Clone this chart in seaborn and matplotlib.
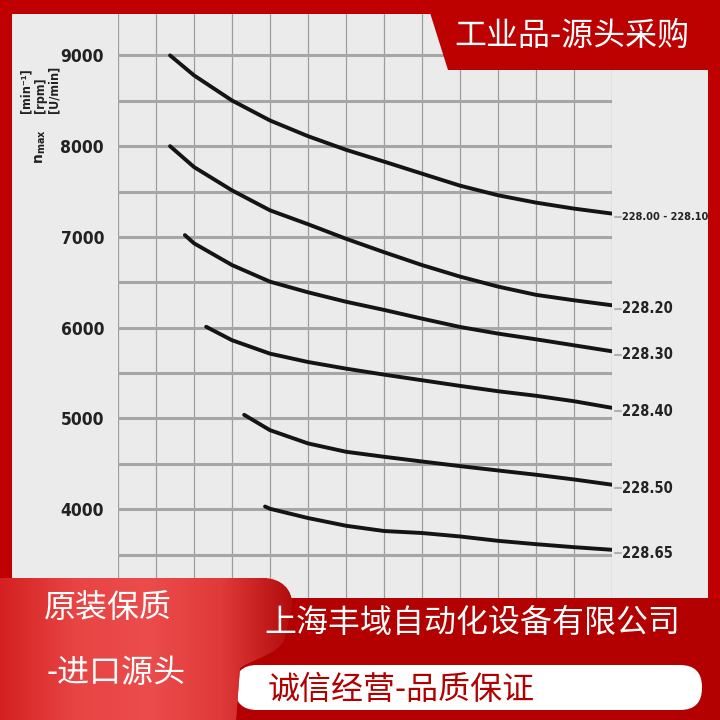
import numpy as np
import pandas as pd
import matplotlib
matplotlib.use("Agg")
import matplotlib.pyplot as plt
import seaborn as sns
from matplotlib import font_manager as fm
from matplotlib.path import Path
from matplotlib.patches import PathPatch, Polygon, Rectangle, FancyBboxPatch
from matplotlib.colors import LinearSegmentedColormap

# ---------------- data ----------------
series_labels = ["228.00 - 228.10", "228.20", "228.30", "228.40", "228.50", "228.65"]

s1_x = [1.37, 2, 3, 4, 5, 6, 7, 8, 9, 10, 11, 12, 13]
s1_n = [9000, 8780, 8503, 8283, 8110, 7960, 7830, 7697, 7565, 7459, 7378, 7312, 7257]
s2_x = [1.37, 2, 3, 4, 5, 6, 7, 8, 9, 10, 11, 12, 13]
s2_n = [8000, 7770, 7513, 7293, 7140, 6980, 6832, 6690, 6563, 6453, 6362, 6302, 6247]
s3_x = [1.76, 2, 3, 4, 5, 6, 7, 8, 9, 10, 11, 12, 13]
s3_n = [7020, 6930, 6690, 6507, 6390, 6286, 6196, 6100, 6008, 5935, 5872, 5806, 5740]
s4_x = [2.32, 3, 4, 5, 6, 7, 8, 9, 10, 11, 12, 13]
s4_n = [6010, 5862, 5714, 5622, 5549, 5483, 5421, 5359, 5300, 5250, 5190, 5117]
s5_x = [3.32, 4, 5, 6, 7, 8, 9, 10, 11, 12, 13]
s5_n = [5040, 4871, 4725, 4633, 4578, 4526, 4475, 4427, 4380, 4328, 4270]
s6_x = [3.87, 4, 5, 6, 7, 8, 9, 10, 11, 12, 13]
s6_n = [4030, 4005, 3903, 3818, 3760, 3738, 3700, 3652, 3615, 3582, 3553]

y_ticks = [4000, 5000, 6000, 7000, 8000, 9000]
y_tick_labels = ["4000", "5000", "6000", "7000", "8000", "9000"]
y_minor = [3500, 4500, 5500, 6500, 7500, 8500]
x_grid = list(range(14))

unit_labels = ["[min\u207b\u00b9]", "[rpm]", "[U/min]"]
top_banner = "工业品-源头采购"
left_line1 = "原装保质"
left_line2 = "-进口源头"
company = "上海丰域自动化设备有限公司"
slogan = "诚信经营-品质保证"

# ---------------- style ----------------
RED = "#c00000"
DARKRED = "#b30000"
PANEL = "#ebebeb"

sns.set_theme(style="white")
plt.rcParams["font.family"] = ["Noto Sans CJK SC", "DejaVu Sans"]


def _narrow_file():
    for f in fm.fontManager.ttflist:
        nm = f.name
        narrow = ("Narrow" in nm) or ("Condensed" in nm) or (str(f.stretch) in ("condensed", "semi-condensed"))
        if narrow and str(f.weight) in ("bold", "700") and f.style == "normal":
            return f.fname
    return None


NARROW_FILE = _narrow_file()


def num_font(size):
    if NARROW_FILE:
        return fm.FontProperties(fname=NARROW_FILE, size=size)
    return fm.FontProperties(family=["Liberation Sans", "DejaVu Sans"], weight="bold", size=size * 0.9)


xs = [s1_x, s2_x, s3_x, s4_x, s5_x, s6_x]
ns = [s1_n, s2_n, s3_n, s4_n, s5_n, s6_n]
df = pd.concat(
    [pd.DataFrame({"x": x, "n": n, "series": lab}) for x, n, lab in zip(xs, ns, series_labels)],
    ignore_index=True,
)

fig = plt.figure(figsize=(7.2, 7.2), dpi=100)
fig.patch.set_facecolor(RED)

bg = fig.add_axes([0, 0, 1, 1], zorder=0)
bg.set_xlim(0, 720); bg.set_ylim(720, 0); bg.axis("off")
bg.add_patch(Rectangle((12, 14), 696, 600, color=PANEL, lw=0))

ax = fig.add_axes([118 / 720, 1 - 598 / 720, 494 / 720, 584 / 720], zorder=1)
ax.set_facecolor(PANEL)
for s in ax.spines.values():
    s.set_visible(False)
ax.set_xlim(0, 13)
ax.set_ylim(3022, 9456)
ax.set_xticks(x_grid)
ax.set_yticks(y_ticks)
ax.set_yticks(y_minor, minor=True)
ax.set_yticklabels(y_tick_labels, fontproperties=num_font(12.5), color="#222222")
ax.tick_params(axis="x", labelbottom=False, length=0)
ax.tick_params(axis="y", which="both", length=0, pad=10)
ax.xaxis.grid(True, color="#9c9c9c", lw=0.9)
ax.yaxis.grid(True, which="both", color="#a6a6a6", lw=2.2)
ax.set_axisbelow(True)

sns.lineplot(data=df, x="x", y="n", hue="series", palette=["#141414"] * 6,
             legend=False, lw=2.8, estimator=None, ax=ax)
ax.set_xlabel(""); ax.set_ylabel("")

for i, (lab, x, n) in enumerate(zip(series_labels, xs, ns)):
    ax.plot([x[-1] + 0.08, x[-1] + 0.24], [n[-1] - 40, n[-1] - 40], color="#b0b0b0", lw=1.5, clip_on=False)
    ax.text(x[-1] + 0.27, n[-1] - 40, lab, ha="left", va="center",
            fontproperties=num_font(7.8 if i == 0 else 10.5), color="#222222", clip_on=False)

# ---------------- overlay decorations ----------------
ov = fig.add_axes([0, 0, 1, 1], zorder=3)
ov.set_xlim(0, 720); ov.set_ylim(720, 0); ov.axis("off")
ov.patch.set_alpha(0)

# axis label columns
for xc, t in zip([26, 40, 54], unit_labels):
    ov.text(xc, 113, t, rotation=90, ha="center", va="bottom",
            fontproperties=num_font(9), color="#222222")
ov.text(41, 164, r"$\mathbf{n_{max}}$", rotation=90, ha="center", va="bottom", fontsize=10, color="#222222")

# borders
ov.add_patch(Rectangle((0, 0), 12, 720, color=RED, lw=0))
ov.add_patch(Rectangle((0, 0), 720, 14, color=RED, lw=0))
ov.add_patch(Rectangle((708, 0), 12, 720, color=RED, lw=0))
ov.add_patch(Polygon([(426, 0), (720, 0), (720, 70), (448, 70)], closed=True, color="#bd0000", lw=0))
ov.text(572, 36, top_banner, color="white", fontsize=23, ha="center", va="center")

# bottom band
ov.add_patch(Rectangle((0, 598), 720, 122, color=DARKRED, lw=0))
ov.add_patch(FancyBboxPatch((235, 665), 467, 45, boxstyle="round,pad=0,rounding_size=22",
                            fc="white", ec="none"))

verts = [(0, 578), (262, 578), (282, 578), (292, 590), (292, 604), (284, 640),
         (276, 655), (250, 660), (240, 668), (236, 720), (0, 720), (0, 578)]
codes = [Path.MOVETO, Path.LINETO, Path.CURVE4, Path.CURVE4, Path.CURVE4, Path.LINETO,
         Path.CURVE4, Path.CURVE4, Path.CURVE4, Path.LINETO, Path.LINETO, Path.CLOSEPOLY]
ribbon = PathPatch(Path(verts, codes), fc="#d62a2a", ec="none")
ov.add_patch(ribbon)
cmap = LinearSegmentedColormap.from_list("rib", ["#d42020", "#e84444", "#ec4c4c", "#e03a3a", "#b00a0a"])
grad = np.tile(np.linspace(0, 1, 256), (32, 1))
im = ov.imshow(grad, extent=[0, 295, 720, 578], cmap=cmap, aspect="auto", zorder=2)
im.set_clip_path(ribbon)
ov.set_xlim(0, 720); ov.set_ylim(720, 0)

ov.text(108, 608, left_line1, color="white", fontsize=23, ha="center", va="center", zorder=4)
ov.text(116, 673, left_line2, color="white", fontsize=23, ha="center", va="center", zorder=4)
ov.text(472, 623, company, color="white", fontsize=23, ha="center", va="center", zorder=4)
ov.text(268, 690, slogan, color="#b00000", fontsize=23, ha="left", va="center", zorder=4)

fig.savefig("out.png", dpi=100, facecolor=fig.get_facecolor())
